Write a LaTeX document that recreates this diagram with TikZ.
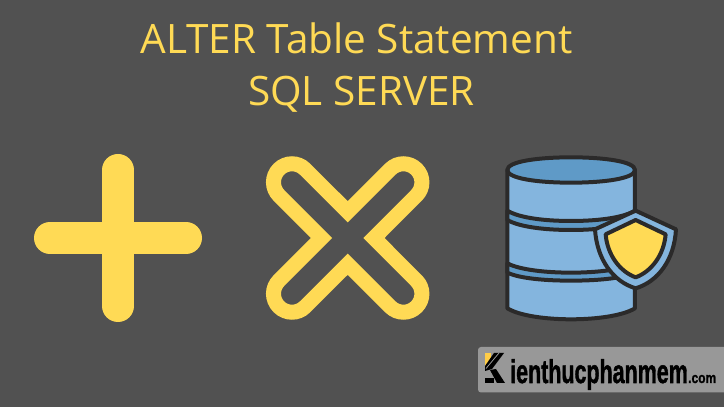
\documentclass[tikz,border=0pt]{standalone}
\usepackage{fontspec}
\setmainfont{Open Sans}
\newfontfamily\logofont[FakeBold=1.6]{Liberation Sans Bold}
\usetikzlibrary{calc}
\definecolor{slate}{HTML}{515151}
\definecolor{gold}{HTML}{FFDA55}
\definecolor{dbblue}{HTML}{84B5DE}
\definecolor{dbdark}{HTML}{5F9AC7}
\definecolor{dbline}{HTML}{2B2A2A}
\definecolor{logogrey}{HTML}{989898}
\tikzset{
  title/.style={text=gold,font=\fontsize{40.5}{41}\selectfont,inner sep=0pt},
  dbstroke/.style={draw=dbline,line width=4pt,line join=round},
  logotext/.style={text=black,inner sep=0pt,anchor=base west}
}
\begin{document}
\begin{tikzpicture}[x=1pt,y=1pt]
      \useasboundingbox (0,0) rectangle (724,407);
      \fill[slate] (0,0) rectangle (724,407);

      \node[title] (heading) at (356.5,369) {ALTER Table Statement};
      \node[title] (server) at (361.5,313) {SQL SERVER};

      % plus
      \draw[gold,line width=32pt,line cap=round] (50,169) -- (186,169);
      \draw[gold,line width=32pt,line cap=round] (118,101) -- (118,237);

      % cross
      \draw[gold,line width=15pt,line join=miter] ($(347.7,169)+(90:26.2)$)
        \foreach \a in {45,-45,-135,-225} {
          -- ($(347.7,169)+(\a:78.8)+(\a+90:18.5)$) arc[start angle=\a+90,delta angle=-180,radius=18.5]
          -- ($(347.7,169)+(\a-45:26.2)$)
        } -- cycle;

      % database, in steps of a third of a pixel from its corner
      \begin{scope}[shift={(490,267)},x=0.3333pt,y=-0.3333pt]
        \draw[dbstroke,fill=dbblue] (52,90) -- (52,505) .. controls (90,528) and (170,538) .. (243,538)
          .. controls (316,538) and (397,528) .. (435,505) -- (435,90) -- cycle;
        \draw[dbstroke,fill=dbdark] (52,90) .. controls (52,65) and (140,52) .. (243,52)
          .. controls (346,52) and (435,65) .. (435,90) .. controls (435,115) and (346,128) .. (243,128)
          .. controls (140,128) and (52,115) .. (52,90) -- cycle;
        \draw[dbstroke,fill=dbdark] (52,212) .. controls (90,235) and (170,243) .. (243,243)
          .. controls (316,243) and (397,235) .. (435,212) -- (435,240) .. controls (397,262) and (316,270) .. (243,270)
          .. controls (170,270) and (90,262) .. (52,240) -- cycle;
        \draw[dbstroke,fill=dbdark] (52,370) .. controls (90,390) and (170,398) .. (243,398)
          .. controls (316,398) and (397,390) .. (435,370) -- (435,398) .. controls (397,416) and (316,422) .. (243,422)
          .. controls (170,422) and (90,416) .. (52,398) -- cycle;

        % shield
        \draw[dbstroke,fill=dbblue] (437,212) -- (558,268) .. controls (553,360) and (504,425) .. (437,445)
          .. controls (370,425) and (321,360) .. (315,268) -- cycle;
        \draw[dbstroke,fill=gold] (437,240) -- (527,283) .. controls (522,345) and (484,395) .. (437,412)
          .. controls (390,395) and (352,345) .. (347,283) -- cycle;
      \end{scope}

      % logo
      \fill[logogrey,rounded corners=3pt] (478,14.5) rectangle (730,60);
      \fill[gold!85!orange] (485,41) rectangle (491,54);
      \fill[black] (494,54) -- (504,54) -- (492,38) -- (485,36) -- (485,41) -- cycle;
      \draw[logogrey,line width=0.8pt] (499,54) -- (486,38.5);
      \fill[black] (490,37) -- (496,38) -- (505,24) -- (497,24) -- cycle;
      \fill[black] (485,24) rectangle (494,29);
      \node[logotext] (logoname) at (510,24) {\logofont\scalebox{0.65}[1]{\fontsize{33}{33}\selectfont ienthucphanmem}};
      \node[logotext] (logocom) at (688,24) {\logofont\scalebox{0.8}[1]{\fontsize{15}{15}\selectfont .com}};
    \end{tikzpicture}
\end{document}
